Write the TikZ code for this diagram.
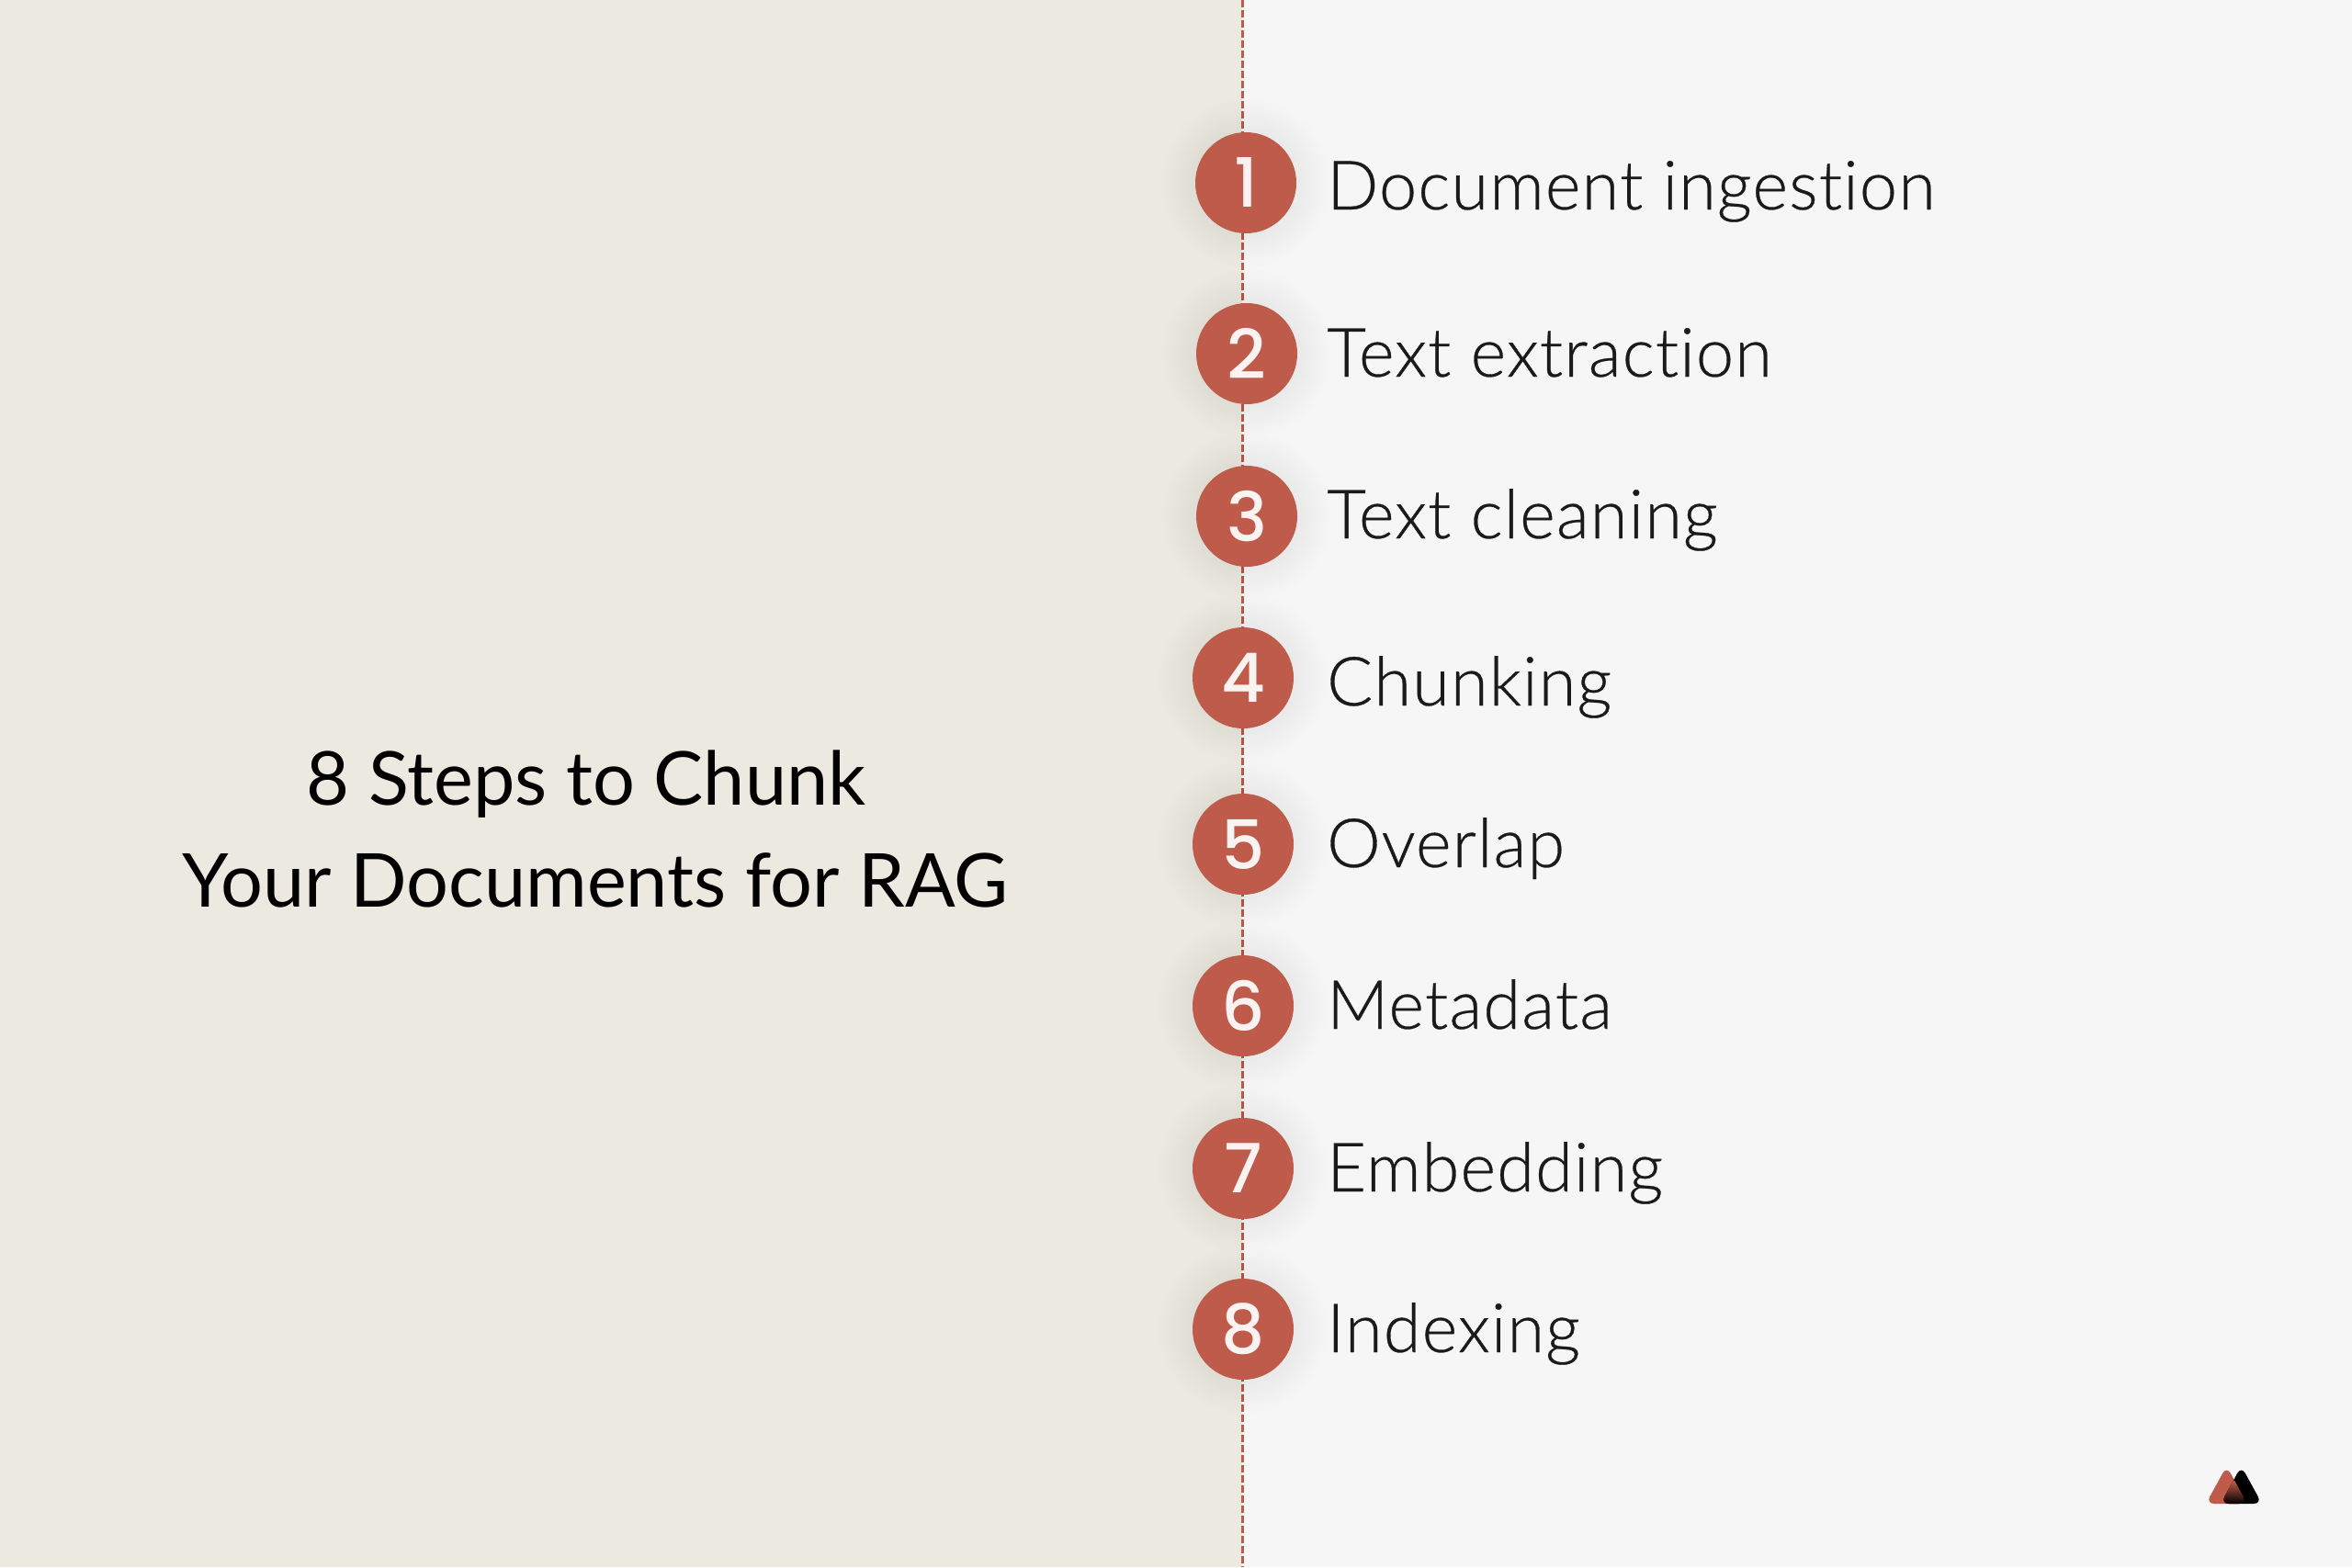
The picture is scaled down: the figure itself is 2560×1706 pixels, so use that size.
\documentclass[tikz,border=0pt]{standalone}
\usepackage{fontspec}
\setmainfont{Lato}[UprightFont=* Light,Ligatures=NoCommon,LetterSpace=1.5,FakeBold=0.4]
\newfontfamily\titlefont{Lato}[Ligatures=NoCommon]
\newfontfamily\numfont{Poppins}[UprightFont=* Medium]
\definecolor{leftbg}{HTML}{ECE9E1}
\definecolor{rightbg}{HTML}{F6F6F6}
\definecolor{brick}{HTML}{BF5B4B}
\definecolor{numwhite}{HTML}{FBF3F1}
\definecolor{ink}{HTML}{1A1A1A}
\tikzset{
  stepcircle/.style={circle,fill=brick,minimum size=110pt,inner sep=0pt,text=numwhite,font=\numfont\fontsize{74}{74}\selectfont},
  steplabel/.style={anchor=base west,inner sep=0pt,text=ink,font=\fontsize{74}{74}\selectfont},
  titleline/.style={anchor=base,inner sep=0pt,text=black,font=\titlefont\fontsize{81}{81}\selectfont},
  spine/.style={draw=brick,line width=3pt,dash pattern=on 8pt off 3pt},
  logocorner/.style={rounded corners=9pt},
}
\newcommand{\softshadow}[2]{%
  \foreach \rr in {56,59,...,92}{\fill[black,opacity=0.005] (#1,#2) circle (\rr pt);}
}
\begin{document}
\begin{tikzpicture}[x=1pt,y=-1pt]
\useasboundingbox (0,0) rectangle (2560,1706);
\fill[leftbg] (0,0) rectangle (1352,1706);
\fill[rightbg] (1352,0) rectangle (2560,1706);
\coordinate (top) at (1352,0);
\coordinate (bot) at (1352,1706);
\draw[spine] (top) -- (bot);
\softshadow{1356}{199}\softshadow{1357}{385}\softshadow{1357}{562}\softshadow{1353}{738}
\softshadow{1353}{919}\softshadow{1353}{1095}\softshadow{1353}{1272}\softshadow{1353}{1447}
\node[stepcircle] (c1) at (1356,199) {1};
\node[stepcircle] (c2) at (1357,385) {2};
\node[stepcircle] (c3) at (1357,562) {3};
\node[stepcircle] (c4) at (1353,738) {4};
\node[stepcircle] (c5) at (1353,919) {5};
\node[stepcircle] (c6) at (1353,1095) {6};
\node[stepcircle] (c7) at (1353,1272) {7};
\node[stepcircle] (c8) at (1353,1447) {8};
\node[steplabel] (l1) at (1444,228) {Document ingestion};
\node[steplabel] (l2) at (1444,410) {Text extraction};
\node[steplabel] (l3) at (1444,586) {Text cleaning};
\node[steplabel] (l4) at (1444,768) {Chunking};
\node[steplabel] (l5) at (1444,944) {Overlap};
\node[steplabel] (l6) at (1444,1120) {Metadata};
\node[steplabel] (l7) at (1444,1297) {Embedding};
\node[steplabel] (l8) at (1444,1472) {Indexing};
\node[titleline] (t1) at (638,876) {8 Steps to Chunk};
\node[titleline] (t2) at (648,987) {Your Documents for RAG};
% logo
\fill[brick,logocorner] (2401,1637) -- (2423.5,1596) -- (2446,1637) -- cycle;
\fill[black,logocorner] (2417,1637) -- (2439.5,1596) -- (2462,1637) -- cycle;
\begin{scope}
\clip[logocorner] (2401,1637) -- (2423.5,1596) -- (2446,1637) -- cycle;
\clip[logocorner] (2417,1637) -- (2439.5,1596) -- (2462,1637) -- cycle;
\shade[top color=brick,bottom color=black] (2415,1612) rectangle (2450,1637);
\end{scope}
\end{tikzpicture}
\end{document}
